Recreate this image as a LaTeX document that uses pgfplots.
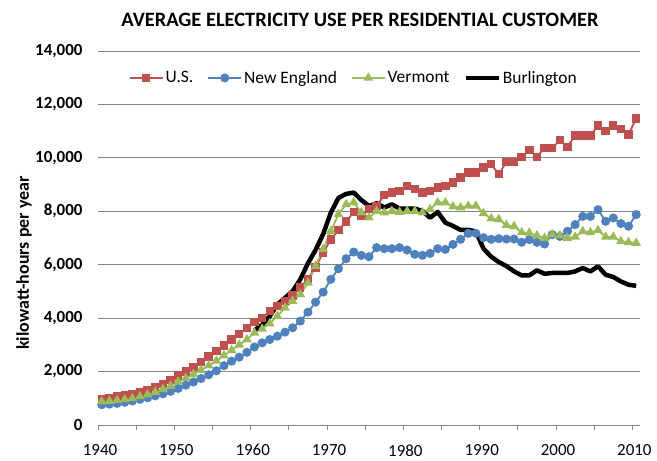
\documentclass[border=0pt]{standalone}
\usepackage{pgfplots}
\pgfplotsset{compat=1.18}
\usepackage{pgfplotstable}
\usepackage{fontspec}
\setmainfont{Carlito}
\definecolor{usred}{RGB}{192,80,77}
\definecolor{neblue}{RGB}{79,129,189}
\definecolor{vtgreen}{RGB}{155,187,89}
\definecolor{gridgray}{RGB}{134,134,134}

\pgfplotstableread{
year us ne vt
1940 970 760 880
1941 1010 780 900
1942 1060 810 930
1943 1110 850 960
1944 1170 900 1000
1945 1240 960 1070
1946 1320 1020 1140
1947 1420 1090 1230
1948 1540 1170 1340
1949 1680 1260 1460
1950 1850 1370 1620
1951 2010 1490 1760
1952 2180 1610 1900
1953 2360 1740 2060
1954 2560 1880 2220
1955 2760 2030 2400
1956 2980 2220 2600
1957 3200 2390 2800
1958 3400 2540 3000
1959 3620 2720 3200
1960 3850 2920 3450
1961 4010 3075 3600
1962 4260 3200 3800
1963 4450 3325 4075
1964 4650 3475 4390
1965 4850 3640 4640
1966 5150 3890 4890
1967 5470 4225 5325
1968 5900 4600 5950
1969 6450 4975 6575
1970 6950 5450 7260
1971 7290 5850 7890
1972 7620 6225 8260
1973 7970 6475 8325
1974 7830 6350 7950
1975 8090 6300 7760
1976 8200 6640 8010
1977 8600 6600 7950
1978 8700 6600 8010
1979 8750 6640 7975
1980 8950 6550 8010
1981 8830 6390 8010
1982 8700 6350 7950
1983 8760 6425 8075
1984 8890 6600 8325
1985 8950 6575 8325
1986 9075 6760 8175
1987 9260 6950 8140
1988 9450 7175 8200
1989 9450 7175 8200
1990 9640 7010 7925
1991 9760 6950 7725
1992 9390 6975 7700
1993 9840 6960 7480
1994 9840 6960 7440
1995 10040 6840 7210
1996 10290 6940 7190
1997 10040 6840 7090
1998 10375 6775 7000
1999 10375 7125 7125
2000 10660 7060 7090
2001 10410 7250 7000
2002 10840 7500 7040
2003 10840 7810 7250
2004 10840 7810 7210
2005 11210 8060 7290
2006 11000 7625 7040
2007 11210 7750 7040
2008 11090 7540 6875
2009 10875 7440 6840
2010 11475 7875 6810
}\datatable

\pgfplotstableread{
year bt
1960 3550
1961 3750
1962 4075
1963 4510
1964 4760
1965 5010
1966 5450
1967 6050
1968 6550
1969 7150
1970 7950
1971 8500
1972 8650
1973 8700
1974 8420
1975 8200
1976 8300
1977 8140
1978 8260
1979 8100
1980 8100
1981 8100
1982 8010
1983 7760
1984 7975
1985 7575
1986 7450
1987 7300
1988 7300
1989 7250
1990 6600
1991 6300
1992 6100
1993 5950
1994 5750
1995 5600
1996 5600
1997 5790
1998 5660
1999 5690
2000 5690
2001 5690
2002 5750
2003 5875
2004 5750
2005 5940
2006 5625
2007 5540
2008 5375
2009 5250
2010 5210
}\burltable

\begin{document}
\begin{tikzpicture}
\useasboundingbox (-98bp,-36bp) rectangle (559bp,425bp);
\begin{axis}[
  scale only axis,
  width=542bp, height=374bp,
  at={(0,0)}, anchor=south west,
  xmin=1939.5, xmax=2010.5,
  ymin=0, ymax=14000,
  axis lines*=left,
  y axis line style={draw=none},
  x axis line style={draw=gridgray, line width=0.8bp},
  xtick={1939.5,1949.5,...,2009.5},
  xticklabels={1940,1950,1960,1970,1980,1990,2000,2010},
  minor xtick={1944.5,1954.5,...,2004.5},
  tick align=outside,
  major tick length=5bp, minor tick length=5bp,
  xtick style={draw=gridgray, line width=0.8bp},
  ytick={0,2000,...,14000},
  ytick style={draw=none},
  scaled y ticks=false,
  ymajorgrids,
  major grid style={draw=gridgray, line width=0.8bp},
  /pgf/number format/.cd, 1000 sep={,}, assume math mode=true, /pgfplots/.cd,
  yticklabel style={font=\fontsize{17}{19}\selectfont\bfseries, xshift=-7bp},
  xticklabel style={font=\fontsize{17}{19}\selectfont, yshift=-11bp, xshift=2bp},
  legend columns=4,
  legend style={draw=none, fill=none, at={(0.472,0.928)}, anchor=center,
    font=\fontsize{17.5}{19}\selectfont,
    /tikz/every even column/.append style={column sep=12bp},
    /tikz/every odd column/.append style={column sep=0bp}},
  legend image code/.code={\draw[mark repeat=2,mark phase=2,#1] plot coordinates {(0bp,0bp) (16.5bp,0bp) (33bp,0bp)};},
  clip=false,
]
\addplot[usred, line width=1.8bp, mark=square*, mark size=3.3bp, mark options={solid, fill=usred, draw=usred}] table[x=year,y=us] {\datatable};
\addlegendentry{U.S.}
\addplot[neblue, line width=1.8bp, mark=*, mark size=3.6bp, mark options={solid, fill=neblue, draw=neblue}] table[x=year,y=ne] {\datatable};
\addlegendentry{New England}
\addplot[vtgreen, line width=1.8bp, mark=triangle*, mark size=3.8bp, mark options={solid, fill=vtgreen, draw=vtgreen}] table[x=year,y=vt] {\datatable};
\addlegendentry{Vermont}
\addplot[black, line width=4.5bp, no marks, line join=round] table[x=year,y=bt] {\burltable};
\addlegendentry{Burlington}
\end{axis}
\node[font=\fontsize{20.5}{23}\selectfont\bfseries] at (262bp,405bp) {AVERAGE ELECTRICITY USE PER RESIDENTIAL CUSTOMER};
\node[font=\fontsize{18}{20}\selectfont\bfseries, rotate=90] at (-74bp,162bp) {kilowatt-hours per year};
\end{tikzpicture}
\end{document}
